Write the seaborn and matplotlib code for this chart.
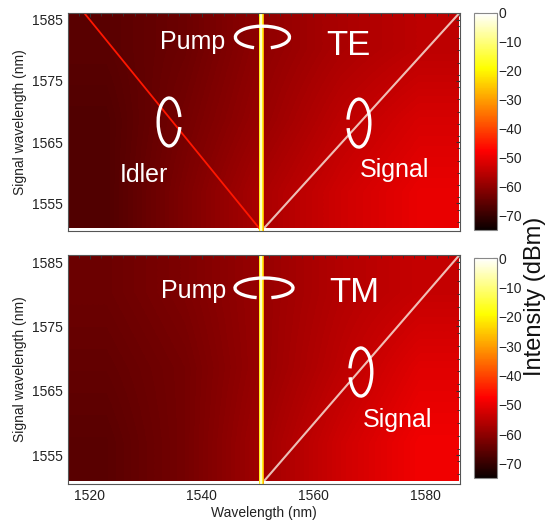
import numpy as np
import matplotlib
matplotlib.use("Agg")
import matplotlib.pyplot as plt
from matplotlib.patches import Arc
from matplotlib.ticker import MultipleLocator
import seaborn as sns

# ---------------------------------------------------------------------------
# Data
# ---------------------------------------------------------------------------
# background level grid, dBm: rows = signal wavelength, cols = wavelength
grid_wl = [1516, 1533, 1550, 1568, 1586]
grid_sig = [1586, 1568, 1551]
te_background = [
    [-66, -64, -60, -57, -55],
    [-67, -63, -59, -55, -52],
    [-67, -62, -57, -53, -50],
]
tm_background = [
    [-64, -62, -59, -56, -54],
    [-65, -63, -59, -55, -51],
    [-66, -63, -58, -53, -49],
]

# spectral lines (wavelength nm, signal wavelength nm, level dBm)
pump_wl = [1550.7, 1550.7]
pump_sig = [1550.5, 1586.1]
pump_level = -4
signal_wl = [1550.7, 1586.1]
signal_sig = [1550.5, 1586.1]
signal_level = -1
idler_wl = [1550.7, 1519.0]
idler_sig = [1550.5, 1586.1]
idler_level = -45

x_ticks = [1520, 1540, 1560, 1580]
y_ticks = [1555, 1565, 1575, 1585]
cbar_ticks = [0, -10, -20, -30, -40, -50, -60, -70]
VMIN, VMAX = -75, 0
XLIM = (1516.1, 1586.2)
YLIM = (1550.5, 1586.1)

# ---------------------------------------------------------------------------
# Style
# ---------------------------------------------------------------------------
sns.set_style("white")
plt.rcParams["font.family"] = ["Liberation Sans", "DejaVu Sans"]
cmap = plt.get_cmap("hot")
norm = matplotlib.colors.Normalize(VMIN, VMAX)

W, H = 548, 521
fig = plt.figure(figsize=(W / 100, H / 100), dpi=100)
ax_te = fig.add_axes([68 / W, 1 - 231 / H, 392 / W, 218 / H])
ax_tm = fig.add_axes([68 / W, 1 - 484 / H, 392 / W, 229 / H])
cax_te = fig.add_axes([474 / W, 1 - 230 / H, 23 / W, 217 / H])
cax_tm = fig.add_axes([474 / W, 1 - 478 / H, 23 / W, 220 / H])


def draw_map(ax, cax, background, lines):
    im = ax.imshow(np.array(background), cmap=cmap, vmin=VMIN, vmax=VMAX,
                   extent=(grid_wl[0], grid_wl[-1], grid_sig[-1], grid_sig[0]),
                   interpolation="bilinear", aspect="auto", origin="upper")
    for xs, ys, level, lw, alpha in lines:
        sns.lineplot(x=xs, y=ys, ax=ax, color=cmap(norm(level)), lw=lw,
                     alpha=alpha, sort=False, estimator=None)
    ax.set_xlim(*XLIM)
    ax.set_ylim(*YLIM)
    ax.set_xticks(x_ticks)
    ax.set_yticks(y_ticks)
    ax.xaxis.set_minor_locator(MultipleLocator(2))
    ax.yaxis.set_minor_locator(MultipleLocator(2))
    ax.tick_params(which="both", direction="in", top=True, right=True,
                   color="#333333", labelsize=10, labelcolor="#222222")
    ax.tick_params(which="major", length=3)
    ax.tick_params(which="minor", length=2)
    for sp in ax.spines.values():
        sp.set_color("#555555")
        sp.set_linewidth(0.8)
    ax.set_ylabel("Signal wavelength (nm)", fontsize=10, color="#222222")

    cb = fig.colorbar(im, cax=cax, ticks=cbar_ticks)
    cb.outline.set_edgecolor("#888888")
    cb.outline.set_linewidth(0.8)
    cax.tick_params(direction="in", left=True, right=True, length=3,
                    color="#555555", labelsize=10, labelcolor="#222222", pad=1)


pump_lines = [
    (pump_wl, pump_sig, -28, 3.6, 1.0),
    (pump_wl, pump_sig, -16, 2.6, 1.0),
    (pump_wl, pump_sig, pump_level, 1.4, 1.0),
]
draw_map(ax_te, cax_te, te_background, [
    (idler_wl, idler_sig, idler_level, 1.3, 1.0),
    (signal_wl, signal_sig, signal_level, 1.5, 0.75),
] + pump_lines)
draw_map(ax_tm, cax_tm, tm_background, [
    (signal_wl, signal_sig, signal_level, 1.5, 0.75),
] + pump_lines)

ax_te.set_xticklabels([])
ax_tm.set_xlabel("Wavelength (nm)", fontsize=10, color="#222222", labelpad=2)


def ring(ax, x, y, w, h, t1, t2):
    ax.add_patch(Arc((x, y), w, h, theta1=t1, theta2=t2, transform=ax.transAxes,
                     color="white", lw=2.4, zorder=5))


def label(ax, x, y, s, size):
    ax.text(x, y, s, transform=ax.transAxes, color="white", fontsize=size,
            ha="center", va="center", zorder=6)


# TE annotations
ring(ax_te, 0.496, 0.889, 0.138, 0.101, -66, 246)
ring(ax_te, 0.258, 0.50, 0.056, 0.22, 40, 320)
ring(ax_te, 0.742, 0.495, 0.056, 0.22, -140, 150)
label(ax_te, 0.318, 0.867, "Pump", 18)
label(ax_te, 0.714, 0.849, "TE", 25)
label(ax_te, 0.194, 0.257, "Idler", 18)
label(ax_te, 0.834, 0.28, "Signal", 18)

# TM annotations
ring(ax_tm, 0.50, 0.856, 0.148, 0.087, -66, 246)
ring(ax_tm, 0.747, 0.489, 0.056, 0.21, -140, 150)
label(ax_tm, 0.321, 0.843, "Pump", 18)
label(ax_tm, 0.73, 0.838, "TM", 25)
label(ax_tm, 0.841, 0.279, "Signal", 18)

fig.text(535 / W, 1 - 296 / H, "Intensity (dBm)", rotation=90, fontsize=17,
         ha="center", va="center", color="#111111")

fig.savefig("out.png", dpi=100)
plt.close(fig)
